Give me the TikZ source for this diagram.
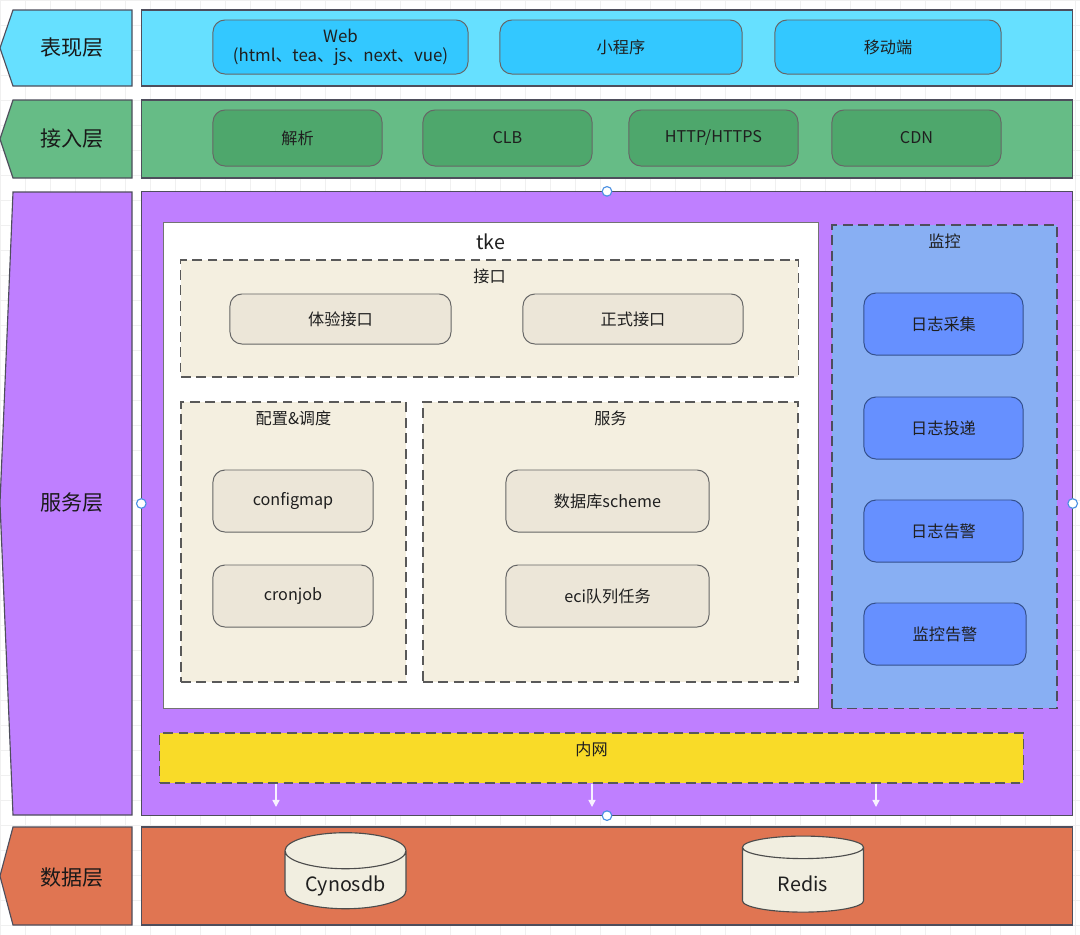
\documentclass[tikz,border=0pt]{standalone}
\usepackage{fontspec}
\setmainfont{Noto Sans CJK SC}
\usepackage{xcolor}
\usetikzlibrary{arrows.meta, positioning, shapes.geometric}

\definecolor{cyanA}{HTML}{66E0FF}
\definecolor{cyanB}{HTML}{33C8FF}
\definecolor{greenA}{HTML}{66BC86}
\definecolor{greenB}{HTML}{4EA76C}
\definecolor{purpleA}{HTML}{BF7FFF}
\definecolor{beigeA}{HTML}{F4EFE0}
\definecolor{beigeB}{HTML}{ECE6D8}
\definecolor{blueA}{HTML}{88AFF3}
\definecolor{blueB}{HTML}{6690FF}
\definecolor{blueE}{HTML}{34508C}
\definecolor{yellowA}{HTML}{F9DB28}
\definecolor{orangeA}{HTML}{E07552}
\definecolor{cylfill}{HTML}{F1EEE0}
\definecolor{edge}{HTML}{4E4E5C}
\definecolor{handleblue}{HTML}{4A90E2}

\begin{document}
\begin{tikzpicture}[x=0.025cm, y=-0.025cm,
    every node/.style={font=\fontsize{11.5}{14}\selectfont, text=black!88},
    layershape/.style={draw=edge, line width=0.8pt},
    layertxt/.style={font=\fontsize{15}{18}\selectfont, text=black!90},
    panel/.style={draw=edge, line width=0.8pt, minimum width=23.25cm, inner sep=0pt},
    pill/.style={draw=black!60, line width=0.7pt, rounded corners=0.3cm, inner sep=0pt, align=center},
    group/.style={draw=black!65, line width=0.8pt, dash pattern=on 7pt off 4pt, inner sep=0pt},
    grouptitle/.style={anchor=north, inner sep=0pt, yshift=-0.22cm},
    handle/.style={circle, draw=handleblue, fill=white, line width=0.8pt, minimum size=0.24cm, inner sep=0pt},
    drop/.style={-{Triangle[width=5pt, length=5pt]}, draw=white!88!purpleA, line width=1pt},
    db/.style={cylinder, shape border rotate=90, aspect=0.45, draw=black!70, line width=0.8pt,
        fill=cylfill, minimum width=3.025cm, minimum height=1.9cm, inner sep=0pt,
        font=\fontsize{14}{16}\selectfont}]

    \useasboundingbox (0,0) rectangle (1080,935);
    \fill[white] (0,0) rectangle (1080,935);
    \draw[black!6, step=0.625cm] (0,0) grid (1080,935);

    % layer labels
    \draw[layershape, fill=cyanA] (13,10) -- (132,10) -- (132,86) -- (13,86) -- (0,48) -- cycle;
    \node[layertxt] (lbl1) at (72,48) {表现层};
    \draw[layershape, fill=greenA] (13,100) -- (132,100) -- (132,178) -- (13,178) -- (0,139) -- cycle;
    \node[layertxt] (lbl2) at (72,139) {接入层};
    \draw[layershape, fill=purpleA] (13,192) -- (132,192) -- (132,815) -- (13,815) -- (0,503) -- cycle;
    \node[layertxt] (lbl3) at (72,503) {服务层};
    \draw[layershape, fill=orangeA] (13,827) -- (132,827) -- (132,925) -- (13,925) -- (0,876) -- cycle;
    \node[layertxt] (lbl4) at (72,878) {数据层};

    % presentation
    \node[panel, fill=cyanA, minimum height=1.9cm] (show) at (607,48) {};
    \node[pill, fill=cyanB, minimum width=6.375cm, minimum height=1.35cm, font=\fontsize{12}{13.5}\selectfont] (web) at (340.5,47) {Web\\(html、tea、js、next、vue)};
    \node[pill, fill=cyanB, minimum width=6.05cm, minimum height=1.35cm] (mini) at (621,47) {小程序};
    \node[pill, fill=cyanB, minimum width=5.65cm, minimum height=1.35cm] (mobile) at (888,47) {移动端};

    % access
    \node[panel, fill=greenA, minimum height=1.95cm] (access) at (607,139) {};
    \node[pill, fill=greenB, minimum width=4.225cm, minimum height=1.4cm] (dns) at (297.5,138) {解析};
    \node[pill, fill=greenB, minimum width=4.225cm, minimum height=1.4cm] (clb) at (507.5,138) {CLB};
    \node[pill, fill=greenB, minimum width=4.225cm, minimum height=1.4cm] (http) at (713.5,138) {HTTP/HTTPS};
    \node[pill, fill=greenB, minimum width=4.225cm, minimum height=1.4cm] (cdn) at (916.5,138) {CDN};

    % service
    \node[panel, fill=purpleA, minimum height=15.575cm] (service) at (607,503.5) {};
    \node[draw=black!55, fill=white, minimum width=16.375cm, minimum height=12.15cm, inner sep=0pt,
        label={[anchor=north, inner sep=0pt, yshift=-0.3cm, font=\fontsize{14}{16}\selectfont]north:tke}] (tke) at (490.5,465) {};

    \node[group, fill=beigeA, minimum width=15.425cm, minimum height=2.925cm,
        label={[grouptitle]north:接口}] (api) at (489.5,318.5) {};
    \node[pill, fill=beigeB, minimum width=5.525cm, minimum height=1.25cm] (tryapi) at (340.5,319) {体验接口};
    \node[pill, fill=beigeB, minimum width=5.5cm, minimum height=1.25cm] (prodapi) at (633,319) {正式接口};

    \node[group, fill=beigeA, minimum width=5.625cm, minimum height=7cm,
        label={[grouptitle]north:配置\&调度}] (conf) at (293.5,542) {};
    \node[pill, fill=beigeB, minimum width=4cm, minimum height=1.55cm] (cfgmap) at (293,501) {configmap};
    \node[pill, fill=beigeB, minimum width=4cm, minimum height=1.55cm] (cron) at (293,596) {cronjob};

    \node[group, fill=beigeA, minimum width=9.375cm, minimum height=7cm,
        label={[grouptitle]north:服务}] (svc) at (610.5,542) {};
    \node[pill, fill=beigeB, minimum width=5.075cm, minimum height=1.55cm] (schema) at (607.5,501) {数据库scheme};
    \node[pill, fill=beigeB, minimum width=5.075cm, minimum height=1.55cm] (eci) at (607.5,596) {eci队列任务};

    \node[group, draw=edge, fill=blueA, minimum width=5.625cm, minimum height=12.075cm,
        label={[grouptitle]north:监控}] (mon) at (944.5,466.5) {};
    \node[pill, draw=blueE, fill=blueB, minimum width=3.975cm, minimum height=1.55cm] (logcol) at (943.5,324) {日志采集};
    \node[pill, draw=blueE, fill=blueB, minimum width=3.975cm, minimum height=1.55cm] (logdel) at (943.5,428) {日志投递};
    \node[pill, draw=blueE, fill=blueB, minimum width=3.975cm, minimum height=1.55cm] (logalm) at (943.5,531) {日志告警};
    \node[pill, draw=blueE, fill=blueB, minimum width=4.05cm, minimum height=1.55cm] (monalm) at (945,634) {监控告警};

    \node[group, fill=yellowA, minimum width=21.575cm, minimum height=1.25cm,
        label={[grouptitle]north:内网}] (lan) at (591.5,758) {};

    \coordinate (d1) at (276,807);
    \coordinate (d2) at (592,807);
    \coordinate (d3) at (876,807);
    \draw[drop] (lan.south -| d1) -- (d1);
    \draw[drop] (lan.south -| d2) -- (d2);
    \draw[drop] (lan.south -| d3) -- (d3);

    % data
    \node[panel, fill=orangeA, minimum height=2.45cm] (data) at (607,876) {};
    \node[db] (cyno) at (345.5,880) {\raisebox{-0.28cm}[0pt][0pt]{Cynosdb}};
    \node[db] (redis) at (803,880) {\raisebox{-0.28cm}[0pt][0pt]{Redis}};

    % selection handles
    \node[handle] (h1) at (service.north) {};
    \node[handle] (h2) at (service.west) {};
    \node[handle] (h3) at (service.east) {};
    \node[handle] (h4) at (service.south) {};
\end{tikzpicture}
\end{document}
